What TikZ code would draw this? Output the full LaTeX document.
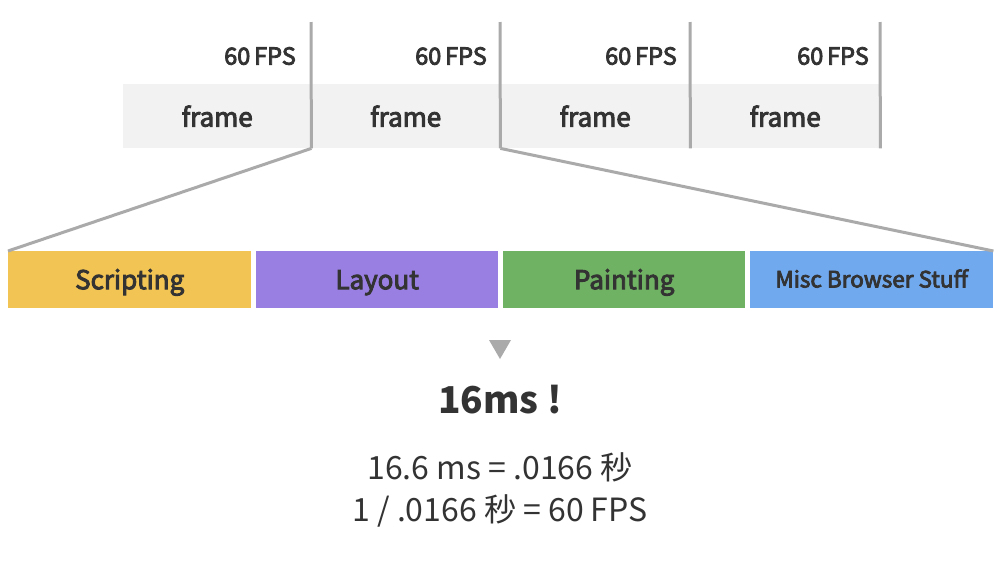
\documentclass[tikz,border=0pt]{standalone}
\usepackage{fontspec}
\setmainfont{Noto Sans CJK JP}
\newfontfamily\medfont{Noto Sans CJK JP}[FakeBold=3.5]
\begin{document}
\begin{tikzpicture}[x=1pt,y=-1pt,
  framebox/.style={fill=framegray, draw=none, inner sep=0pt, minimum height=64pt, anchor=north west, text=textgray, font=\fontsize{26}{30}\medfont},
  fps/.style={anchor=east, inner sep=0pt, text=textgray, font=\fontsize{23.5}{28}\medfont},
  sep/.style={draw=linegray, line width=3pt},
  bar/.style={draw=none, inner sep=0pt, minimum width=243pt, minimum height=57pt, anchor=north west, text=textgray, text height=21pt, text depth=2pt, font=\fontsize{26}{30}\medfont},
]
\definecolor{framegray}{HTML}{F2F2F2}
\definecolor{linegray}{HTML}{AAAAAA}
\definecolor{textgray}{HTML}{333333}
\definecolor{cyellow}{HTML}{F2C453}
\definecolor{cpurple}{HTML}{9A7FE3}
\definecolor{cgreen}{HTML}{70B263}
\definecolor{cblue}{HTML}{71A9EF}
\useasboundingbox[fill=white] (0,0) rectangle (1000,560);

% frames
\node[framebox, minimum width=188pt] (f1) at (123,84) {frame};
\node[framebox, minimum width=189pt] (f2) at (311,84) {frame};
\node[framebox, minimum width=190pt] (f3) at (500,84) {frame};
\node[framebox, minimum width=190pt] (f4) at (690,84) {frame};

\coordinate (t1) at (311,22);
\coordinate (t2) at (500,22);
\coordinate (t3) at (690,22);
\coordinate (t4) at (880,22);
\draw[sep] (t1) -- (f1.south east);
\draw[sep] (t2) -- (f2.south east);
\draw[sep] (t3) -- (f3.south east);
\draw[sep] (t4) -- (f4.south east);

\node[fps] (p1) at (296,56) {60\,FPS};
\node[fps] (p2) at (487,56) {60\,FPS};
\node[fps] (p3) at (677,56) {60\,FPS};
\node[fps] (p4) at (869,56) {60\,FPS};

% bars
\node[bar, fill=cyellow] (scr) at (8,251) {Scripting};
\node[bar, fill=cpurple, minimum width=242pt] (lay) at (256,251) {Layout};
\node[bar, fill=cgreen, minimum width=242pt] (pai) at (503,251) {Painting};
\node[bar, fill=cblue, text height=18pt, text depth=2.5pt, font=\fontsize{22.5}{27}\medfont] (misc) at (750,251) {Misc Browser Stuff};

\draw[sep] (f1.south east) -- (scr.north west);
\draw[sep] (f2.south east) -- (misc.north east);

% triangle
\fill[linegray] (489,340) -- (511,340) -- (500,359) -- cycle;
\node[inner sep=0pt, text=textgray, font=\fontsize{37}{44}\selectfont\bfseries] (big) at (500,400) {16ms !};
\node[inner sep=0pt, text=textgray, font=\fontsize{32}{38}\selectfont] (l1) at (500,467) {16.6 ms = .0166 秒};
\node[inner sep=0pt, text=textgray, font=\fontsize{32}{38}\selectfont] (l2) at (500,511) {1 / .0166 秒 = 60 FPS};
\end{tikzpicture}
\end{document}
